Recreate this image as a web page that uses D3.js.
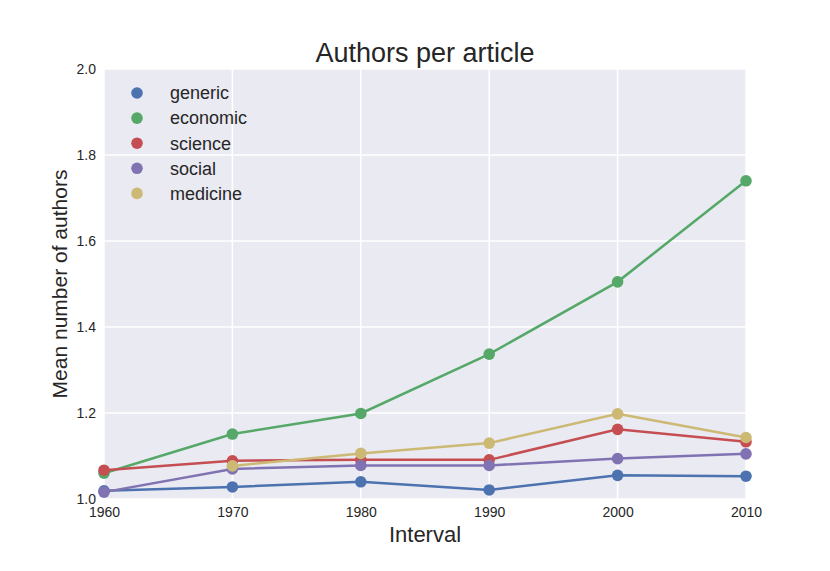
<!DOCTYPE html>
<html>
<head>
<meta charset="UTF-8">
<script src="https://cdn.jsdelivr.net/npm/d3@7"></script>
<style>
  body { margin: 0; background: #fff; }
  text { font-family: Arial, "Liberation Sans", sans-serif; fill: #262626; }
</style>
</head>
<body>
<svg id="chart" width="830" height="571"></svg>
<script>
const years = [1960, 1970, 1980, 1990, 2000, 2010];
const seriesNames = ["generic", "economic", "science", "social", "medicine"];
const colors = ["#4C72B0", "#55A868", "#C44E52", "#8172B2", "#CCB974"];
const generic = [1.019, 1.028, 1.040, 1.021, 1.055, 1.053];
const economic = [1.060, 1.151, 1.199, 1.337, 1.505, 1.740];
const science = [1.067, 1.089, 1.091, 1.091, 1.162, 1.133];
const social = [1.016, 1.070, 1.078, 1.078, 1.094, 1.105];
const medicine = [null, 1.077, 1.106, 1.130, 1.198, 1.143];
const yTicks = [1.0, 1.2, 1.4, 1.6, 1.8, 2.0];

const allSeries = [generic, economic, science, social, medicine];

const svg = d3.select("#chart");
const plotL = 104, plotR = 746, plotT = 69, plotB = 499;

const x = d3.scaleLinear().domain([1960, 2010]).range([plotL, plotR]);
const y = d3.scaleLinear().domain([1.0, 2.0]).range([plotB, plotT]);

// background
svg.append("rect")
    .attr("x", plotL).attr("y", plotT)
    .attr("width", plotR - plotL).attr("height", plotB - plotT)
    .attr("fill", "#EAEAF2");

// grid
svg.append("g").selectAll("line").data(years).join("line")
    .attr("x1", d => x(d)).attr("x2", d => x(d))
    .attr("y1", plotT).attr("y2", plotB)
    .attr("stroke", "#fff").attr("stroke-width", 1.5);
svg.append("g").selectAll("line").data(yTicks).join("line")
    .attr("x1", plotL).attr("x2", plotR)
    .attr("y1", d => y(d)).attr("y2", d => y(d))
    .attr("stroke", "#fff").attr("stroke-width", 1.5);

// axes (labels only)
const xAxis = svg.append("g")
    .attr("transform", `translate(0,${plotB})`)
    .call(d3.axisBottom(x).tickValues(years).tickFormat(d3.format("d")).tickSize(0).tickPadding(8));
const yAxis = svg.append("g")
    .attr("transform", `translate(${plotL},0)`)
    .call(d3.axisLeft(y).tickValues(yTicks).tickFormat(d3.format(".1f")).tickSize(0).tickPadding(8));
[xAxis, yAxis].forEach(a => {
    a.select(".domain").remove();
    a.selectAll("text").attr("font-size", "14px").attr("fill", "#262626")
        .style("font-family", "Arial, 'Liberation Sans', sans-serif");
});

// lines
const line = d3.line()
    .defined(d => d[1] != null)
    .x(d => x(d[0])).y(d => y(d[1]));

allSeries.forEach((vals, i) => {
    const pts = years.map((yr, j) => [yr, vals[j]]);
    const g = svg.append("g");
    g.append("path")
        .datum(pts)
        .attr("d", line)
        .attr("fill", "none")
        .attr("stroke", colors[i])
        .attr("stroke-width", 2.5);
    g.selectAll("circle").data(pts.filter(d => d[1] != null)).join("circle")
        .attr("cx", d => x(d[0])).attr("cy", d => y(d[1]))
        .attr("r", 5.8)
        .attr("fill", colors[i]);
});

// legend
const legend = svg.append("g");
seriesNames.forEach((name, i) => {
    legend.append("circle")
        .attr("cx", 137).attr("cy", 93 + i * 25.1)
        .attr("r", 5.8).attr("fill", colors[i]);
    legend.append("text")
        .attr("x", 170).attr("y", 93 + i * 25.1)
        .attr("dy", "0.35em")
        .attr("font-size", "18px")
        .text(name);
});

// title and labels
svg.append("text")
    .attr("x", (plotL + plotR) / 2).attr("y", 62)
    .attr("text-anchor", "middle")
    .attr("font-size", "27px")
    .text("Authors per article");
svg.append("text")
    .attr("x", (plotL + plotR) / 2).attr("y", 542)
    .attr("text-anchor", "middle")
    .attr("font-size", "22px")
    .text("Interval");
svg.append("text")
    .attr("transform", `translate(67,${(plotT + plotB) / 2}) rotate(-90)`)
    .attr("text-anchor", "middle")
    .attr("font-size", "21px")
    .text("Mean number of authors");
</script>
</body>
</html>
